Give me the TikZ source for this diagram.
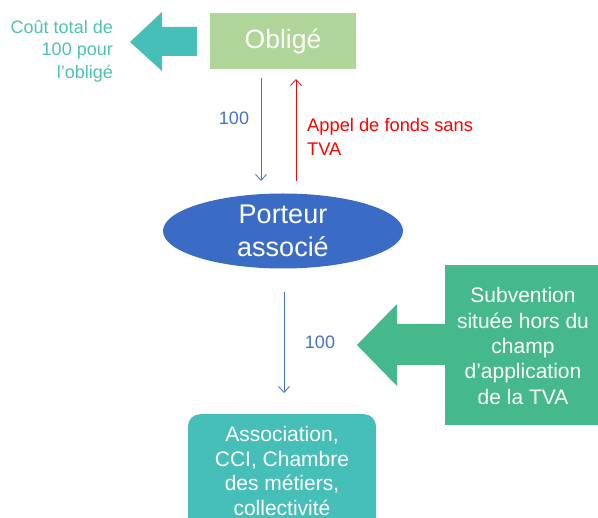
\documentclass[tikz,border=0pt]{standalone}
\usepackage{fontspec}
\setmainfont{Liberation Sans}
\usetikzlibrary{arrows.meta,shapes.geometric}
\definecolor{oblgreen}{RGB}{176,213,152}
\definecolor{tealc}{RGB}{70,191,185}
\definecolor{tealtxt}{RGB}{77,192,183}
\definecolor{ellblue}{RGB}{59,108,197}
\definecolor{lineblue}{RGB}{68,114,196}
\definecolor{callgreen}{RGB}{69,185,140}
\definecolor{redc}{RGB}{255,0,0}
\tikzset{
  flow/.style={line width=0.8pt,-{Straight Barb[length=6pt,width=11pt]}},
  lbl/.style={inner sep=0pt,font=\fontsize{18}{23}\selectfont},
}
\begin{document}
\begin{tikzpicture}[x=1pt,y=-1pt]
\useasboundingbox (0,0) rectangle (598,518);
\clip (0,0) rectangle (598,518);
% Oblige box
\node[fill=oblgreen,minimum width=146pt,minimum height=56pt,inner sep=0pt,text=white,font=\fontsize{26.5}{30}\selectfont] (obl) at (283,41) {Oblig\'e};
% left teal arrow
\fill[tealc] (197,27) -- (162,27) -- (162,12) -- (130,42) -- (162,71) -- (162,56) -- (197,56) -- cycle;
\coordinate (tip1) at (130,42);
\node[lbl,text=tealtxt,align=right,anchor=east,font=\fontsize{18}{22.5}\selectfont] (cout) at (113,51) {Co\^ut total de\\100 pour\\l’oblig\'e};
% Porteur ellipse
\node[ellipse,fill=ellblue,minimum width=240pt,minimum height=75pt,inner sep=0pt,text=white,align=center,font=\fontsize{27}{33}\selectfont] (port) at (283,231) {Porteur\\associ\'e};
% arrows between oblige and porteur
\coordinate (a1s) at (261,78); \coordinate (a1e) at (261,181);
\draw[flow,lineblue] (a1s) -- (a1e);
\coordinate (a2s) at (296,181); \coordinate (a2e) at (296,79);
\draw[flow,redc] (a2s) -- (a2e);
\node[lbl,text=lineblue] (c100a) at (234,118) {100};
\node[lbl,text=redc,align=left,anchor=west,font=\fontsize{18.3}{24}\selectfont] (appel) at (307,137) {Appel de fonds sans\\TVA};
% bottom box
\node[fill=tealc,rounded corners=12pt,minimum width=188pt,minimum height=120pt,inner sep=0pt,anchor=north] (asso) at (282,414) {};
\node[text=white,align=center,font=\fontsize{21}{24.5}\selectfont,inner sep=0pt] (assotxt) at (282,471) {Association,\\CCI, Chambre\\des m\'etiers,\\collectivit\'e};
% arrow porteur to asso
\coordinate (b1s) at (284,292); \coordinate (b1e) at (284,393);
\draw[flow,lineblue] (b1s) -- (b1e);
\node[lbl,text=lineblue] (c100b) at (320,342) {100};
% green callout
\node[fill=callgreen,minimum width=153pt,minimum height=160pt,inner sep=0pt,anchor=north west] (sub) at (445,265) {};
\fill[callgreen] (446,324) -- (397,324) -- (397,304) -- (357,345) -- (397,386) -- (397,365) -- (446,365) -- cycle;
\node[text=white,align=center,font=\fontsize{21}{25.3}\selectfont,inner sep=0pt] (subtxt) at (523,346) {Subvention\\situ\'ee hors du\\champ\\d’application\\de la TVA};
\end{tikzpicture}
\end{document}
